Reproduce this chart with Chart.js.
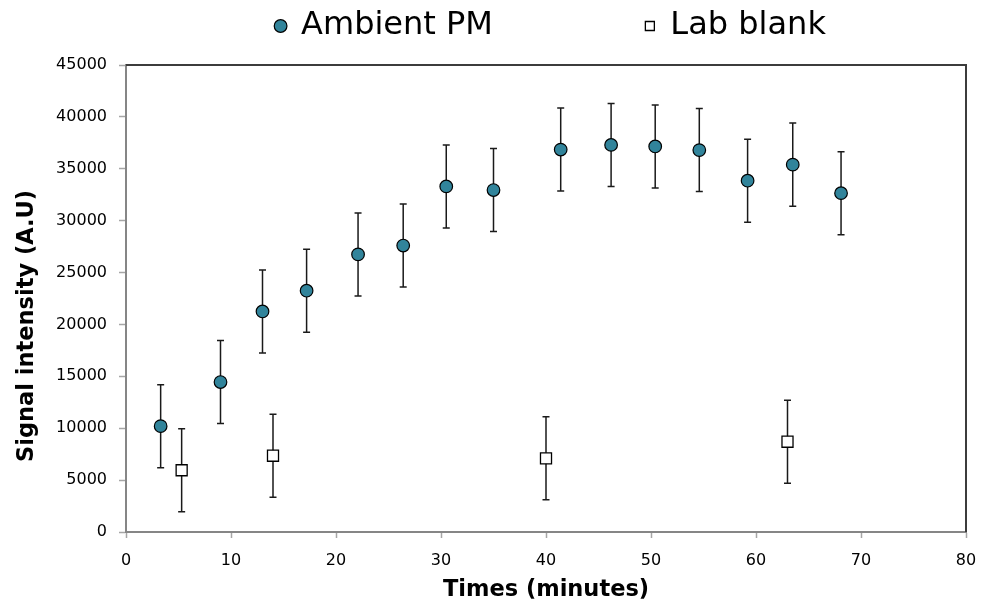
<!DOCTYPE html>
<html>
<head>
<meta charset="utf-8">
<title>Signal intensity vs time</title>
<script src="https://cdn.jsdelivr.net/npm/chart.js@4.4.1/dist/chart.umd.min.js"></script>
<style>
  body { margin: 0; background: #fff; }
  #chart { display: block; }
</style>
</head>
<body>
<canvas id="chart" width="982" height="604"></canvas>
<script>
// Datos
const ambientTimes  = [3.3, 9.0, 13.0, 17.2, 22.1, 26.4, 30.5, 35.0, 41.4, 46.2, 50.4, 54.6, 59.2, 63.5, 68.1];
const ambientSignal = [10200, 14450, 21250, 23250, 26750, 27600, 33300, 32950, 36850, 37300, 37150, 36800, 33850, 35400, 32650];
const ambientError  = [4000, 4000, 4000, 4000, 4000, 4000, 4000, 4000, 4000, 4000, 4000, 4000, 4000, 4000, 4000];

const blankTimes  = [5.3, 14.0, 40.0, 63.0];
const blankSignal = [5950, 7350, 7100, 8700];
const blankError  = [4000, 4000, 4000, 4000];

const xTickValues = [0, 10, 20, 30, 40, 50, 60, 70, 80];
const yTickValues = [0, 5000, 10000, 15000, 20000, 25000, 30000, 35000, 40000, 45000];

const seriesNames = ['Ambient PM', 'Lab blank'];

const axisGray = '#868686';
const fontFamily = "'DejaVu Sans', Verdana, sans-serif";

function toPoints(xs, ys) {
    return xs.map((x, i) => ({ x: x, y: ys[i] }));
}

// Barras de error (±) dibujadas con las escalas del gráfico
const errorBars = {
    id: 'errorBars',
    beforeDatasetsDraw(chart) {
        const { ctx, scales: { x, y } } = chart;
        const cap = 3.5;
        ctx.save();
        ctx.strokeStyle = '#1a1a1a';
        ctx.lineWidth = 1.5;
        chart.data.datasets.forEach(ds => {
            ds.data.forEach((p, j) => {
                const err = ds.errors[j];
                const px = x.getPixelForValue(p.x);
                const top = y.getPixelForValue(p.y + err);
                const bottom = y.getPixelForValue(p.y - err);
                ctx.beginPath();
                ctx.moveTo(px, top);
                ctx.lineTo(px, bottom);
                ctx.moveTo(px - cap, top);
                ctx.lineTo(px + cap, top);
                ctx.moveTo(px - cap, bottom);
                ctx.lineTo(px + cap, bottom);
                ctx.stroke();
            });
        });
        ctx.restore();
    }
};

// Borde superior y derecho del área del gráfico
const plotBorder = {
    id: 'plotBorder',
    afterDatasetsDraw(chart) {
        const { ctx, chartArea: a } = chart;
        ctx.save();
        ctx.strokeStyle = '#3c3c3c';
        ctx.lineWidth = 2;
        ctx.beginPath();
        ctx.moveTo(a.left, a.top);
        ctx.lineTo(a.right, a.top);
        ctx.lineTo(a.right, a.bottom);
        ctx.stroke();
        ctx.restore();
    }
};

// Espacio extra debajo de la leyenda y pequeño desplazamiento a la derecha
const legendPlacement = {
    id: 'legendPlacement',
    beforeLayout(chart) {
        const legend = chart.legend;
        if (legend && !legend._gapPatched) {
            const fit = legend.fit;
            legend.fit = function () {
                fit.call(this);
                this.height += 13;
            };
            legend._gapPatched = true;
        }
    },
    afterLayout(chart) {
        chart.legend.left += 5;
        chart.legend.right += 5;
    }
};

const ctx = document.getElementById('chart').getContext('2d');

new Chart(ctx, {
    type: 'scatter',
    data: {
        datasets: [{
            label: seriesNames[0],
            data: toPoints(ambientTimes, ambientSignal),
            errors: ambientError,
            pointStyle: 'circle',
            pointRadius: 6.3,
            pointHoverRadius: 6.3,
            backgroundColor: '#31849b',
            borderColor: '#000',
            borderWidth: 1.2
        }, {
            label: seriesNames[1],
            data: toPoints(blankTimes, blankSignal),
            errors: blankError,
            pointStyle: 'rect',
            pointRadius: 7.8,
            pointHoverRadius: 7.8,
            backgroundColor: '#fff',
            borderColor: '#000',
            borderWidth: 1.3
        }]
    },
    options: {
        responsive: false,
        animation: false,
        devicePixelRatio: 1,
        layout: {
            padding: { left: 0, right: 16, top: 0, bottom: 0 }
        },
        plugins: {
            tooltip: { enabled: false },
            legend: {
                position: 'top',
                fullSize: false,
                labels: {
                    usePointStyle: true,
                    boxWidth: 9,
                    boxHeight: 9,
                    padding: 10,
                    color: '#000',
                    font: { family: fontFamily, size: 32 },
                    generateLabels(chart) {
                        const items = Chart.defaults.plugins.legend.labels.generateLabels(chart);
                        items[0].text += ' '.repeat(14);
                        return items;
                    }
                }
            }
        },
        scales: {
            x: {
                type: 'linear',
                min: 0,
                max: 80,
                afterBuildTicks(scale) {
                    scale.ticks = xTickValues.map(v => ({ value: v }));
                },
                afterFit(scale) {
                    scale.height = 72;
                    scale.paddingRight = 0;
                },
                grid: {
                    drawOnChartArea: false,
                    drawTicks: true,
                    tickLength: 6,
                    tickColor: '#a6a6a6',
                    tickWidth: 1.5
                },
                border: { color: axisGray, width: 2 },
                ticks: {
                    padding: 13,
                    color: '#000',
                    font: { family: fontFamily, size: 16 }
                },
                title: {
                    display: true,
                    text: 'Times (minutes)',
                    color: '#000',
                    padding: { top: 0, bottom: 0 },
                    font: { family: fontFamily, size: 22.5, weight: 'bold' }
                }
            },
            y: {
                type: 'linear',
                min: 0,
                max: 45000,
                afterBuildTicks(scale) {
                    scale.ticks = yTickValues.map(v => ({ value: v }));
                },
                afterFit(scale) {
                    scale.width = 126;
                },
                grid: {
                    drawOnChartArea: false,
                    drawTicks: true,
                    tickLength: 7,
                    tickColor: '#a6a6a6',
                    tickWidth: 1.5
                },
                border: { color: axisGray, width: 2 },
                ticks: {
                    padding: 12,
                    color: '#000',
                    font: { family: fontFamily, size: 16 },
                    callback: value => String(value)
                },
                title: {
                    display: true,
                    text: 'Signal intensity (A.U)' + ' '.repeat(7),
                    color: '#000',
                    padding: { top: 14, bottom: 0 },
                    font: { family: fontFamily, size: 22.5, weight: 'bold' }
                }
            }
        }
    },
    plugins: [errorBars, plotBorder, legendPlacement]
});
</script>
</body>
</html>
